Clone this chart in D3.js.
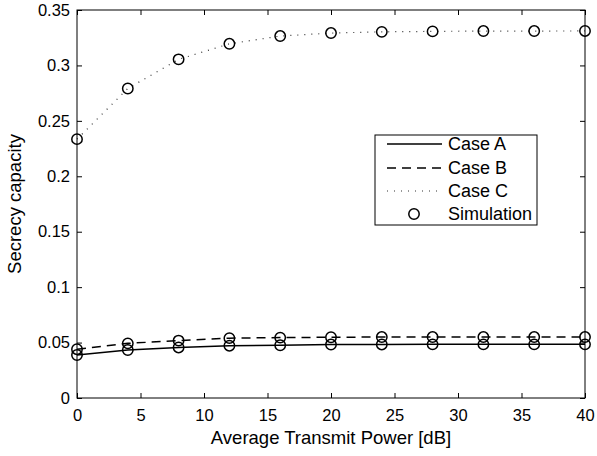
<!DOCTYPE html>
<html><head><meta charset="utf-8">
<script src="https://cdn.jsdelivr.net/npm/d3@7"></script>
<style>body{margin:0;background:#fff}svg{display:block}text{font-family:"Liberation Sans",Arial,sans-serif;fill:#000}</style>
</head><body><svg id="c" width="597" height="456"></svg>
<script>
const power = [0,4,8,12,16,20,24,28,32,36,40];
const caseA = [0.0388,0.0433,0.0456,0.0472,0.0476,0.0482,0.0483,0.0484,0.0484,0.0484,0.0484];
const caseB = [0.0440,0.0493,0.0518,0.0540,0.0545,0.0548,0.0550,0.0550,0.0550,0.0550,0.0550];
const caseC = [0.2335,0.2792,0.3055,0.3195,0.3265,0.3292,0.3303,0.3307,0.3310,0.3310,0.3311];
const xTicks = [0,5,10,15,20,25,30,35,40];
const yTicks = [0,0.05,0.1,0.15,0.2,0.25,0.3,0.35];
const series = [
  {name:"Case A", values:caseA, dash:null},
  {name:"Case B", values:caseB, dash:"9,6"},
  {name:"Case C", values:caseC, dash:"1,6"}
];

const svg = d3.select("#c");
const L=77,R=585,T=10,B=398;
const x = d3.scaleLinear().domain([0,40]).range([L,R]);
const y = d3.scaleLinear().domain([0,0.35]).range([B,T]);

const fs = 16.5, lfs = 18.5, gfs = 18;
// axes
const gx = svg.append("g").attr("transform",`translate(0,${B})`)
  .call(d3.axisBottom(x).tickValues(xTicks).tickSizeInner(-5).tickSizeOuter(0).tickPadding(11).tickFormat(d3.format("d")));
const gxt = svg.append("g").attr("transform",`translate(0,${T})`)
  .call(d3.axisTop(x).tickValues(xTicks).tickSizeInner(-5).tickSizeOuter(0).tickFormat(""));
const gy = svg.append("g").attr("transform",`translate(${L},0)`)
  .call(d3.axisLeft(y).tickValues(yTicks).tickSizeInner(-5).tickSizeOuter(0).tickPadding(7).tickFormat(d=>d===0?"0":String(+d.toFixed(2))));
const gyr = svg.append("g").attr("transform",`translate(${R},0)`)
  .call(d3.axisRight(y).tickValues(yTicks).tickSizeInner(-5).tickSizeOuter(0).tickFormat(""));
[gx,gxt,gy,gyr].forEach(g=>{
  g.select(".domain").remove();
  g.selectAll("line").attr("stroke","#000").attr("stroke-width",1);
  g.selectAll("text").attr("font-size",fs).attr("font-family","Liberation Sans, Arial, sans-serif").attr("fill","#000");
});
gx.selectAll("text").attr("dy","0.71em");

const line = d3.line().x((d,i)=>x(power[i])).y(d=>y(d));
series.forEach(s=>{
  svg.append("path").datum(s.values).attr("d",line).attr("fill","none")
    .attr("stroke",s.dash==="1,6"?"#333":"#000").attr("stroke-width",s.dash==="1,6"?1.2:1.5)
    .attr("stroke-dasharray",s.dash);
});
series.forEach(s=>{
  svg.append("g").selectAll("circle").data(s.values).join("circle")
    .attr("cx",(d,i)=>x(power[i])).attr("cy",d=>y(d)).attr("r",5.2)
    .attr("fill","none").attr("stroke","#000").attr("stroke-width",1.5);
});

// frame
svg.append("rect").attr("x",L).attr("y",T).attr("width",R-L).attr("height",B-T)
  .attr("fill","none").attr("stroke","#000").attr("stroke-width",1);

// labels
svg.append("text").attr("x",(L+R)/2).attr("y",444).attr("text-anchor","middle").attr("font-size",lfs)
  .text("Average Transmit Power [dB]");
svg.append("text").attr("transform",`translate(21,${(T+B)/2}) rotate(-90)`).attr("text-anchor","middle").attr("font-size",lfs)
  .text("Secrecy capacity");

// legend
const lg = svg.append("g");
lg.append("rect").attr("x",375).attr("y",135).attr("width",162).attr("height",90)
  .attr("fill","#fff").attr("stroke","#000").attr("stroke-width",1);
const rows=[144,168,191,214];
series.forEach((s,i)=>{
  lg.append("line").attr("x1",387).attr("x2",442).attr("y1",rows[i]).attr("y2",rows[i])
    .attr("stroke",s.dash==="1,6"?"#333":"#000").attr("stroke-width",s.dash==="1,6"?1.2:1.5).attr("stroke-dasharray",s.dash);
  lg.append("text").attr("x",448).attr("y",rows[i]).attr("dy","0.36em").attr("font-size",gfs).text(s.name);
});
lg.append("circle").attr("cx",414).attr("cy",rows[3]).attr("r",5.2).attr("fill","none").attr("stroke","#000").attr("stroke-width",1.5);
lg.append("text").attr("x",448).attr("y",rows[3]).attr("dy","0.36em").attr("font-size",gfs).text("Simulation");
</script></body></html>
